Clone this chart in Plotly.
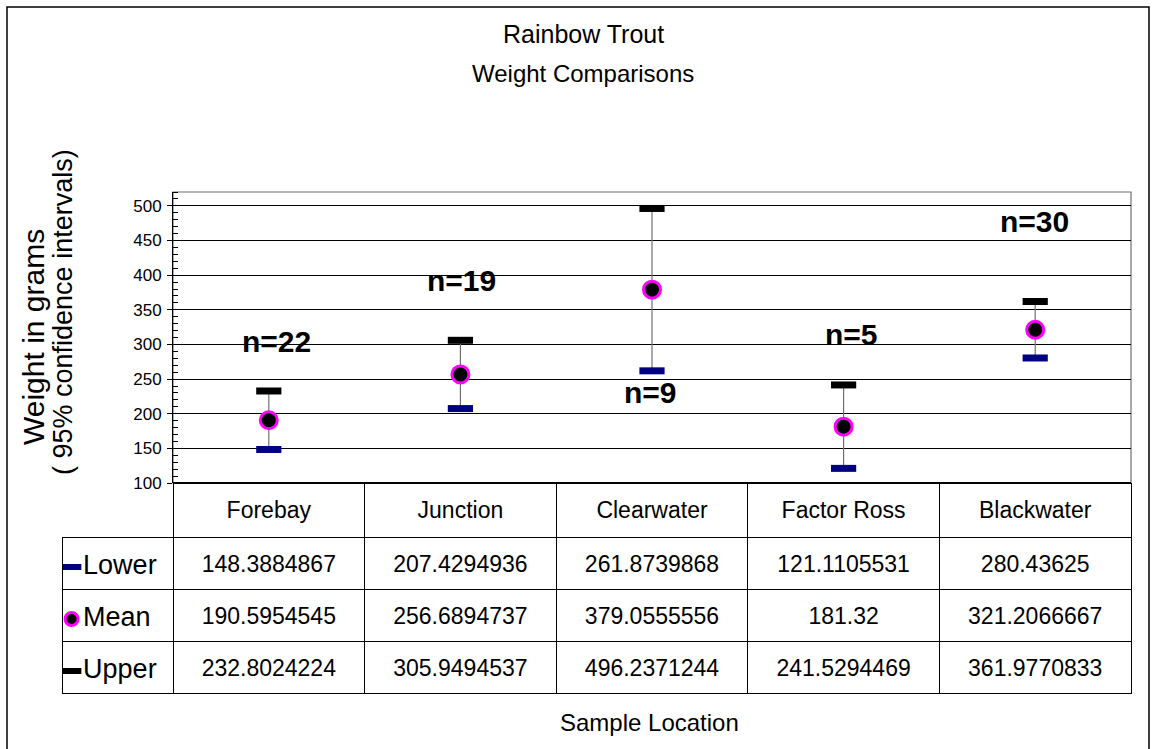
import plotly.graph_objects as go

# ---------------- data ----------------
categories = ["Forebay", "Junction", "Clearwater", "Factor Ross", "Blackwater"]
lower = [148.3884867, 207.4294936, 261.8739868, 121.1105531, 280.43625]
mean = [190.5954545, 256.6894737, 379.0555556, 181.32, 321.2066667]
upper = [232.8024224, 305.9494537, 496.2371244, 241.5294469, 361.9770833]
sample_n = [22, 19, 9, 5, 30]
n_label_y = [304, 392, 230, 314, 477]
n_label_shift = [8, 1, -2, 8, -1]
row_labels = ["Lower", "Mean", "Upper"]
y_ticks = [100, 150, 200, 250, 300, 350, 400, 450, 500]

W, H = 1153, 749
def px(x):
    return x / W
def py(y):
    return 1 - y / H

FONT = "Liberation Sans, Arial, sans-serif"
NAVY = "#000080"
MAGENTA = "#FF00FF"
CLEAR = "rgba(0,0,0,0)"

fig = go.Figure()

# mean with CI whiskers
err_plus = [u - m for u, m in zip(upper, mean)]
err_minus = [m - l for m, l in zip(mean, lower)]
fig.add_trace(go.Scatter(
    x=categories, y=mean, mode="markers", name="Mean",
    error_y=dict(type="data", symmetric=False, array=err_plus, arrayminus=err_minus,
                 color="#707070", thickness=1.2, width=0),
    marker=dict(symbol="circle", size=17, color="black", line=dict(color=MAGENTA, width=3)),
    showlegend=False))
fig.add_trace(go.Scatter(
    x=categories, y=lower, mode="markers", name="Lower",
    marker=dict(symbol="line-ew", size=18, line=dict(color=NAVY, width=7)),
    showlegend=False))
fig.add_trace(go.Scatter(
    x=categories, y=upper, mode="markers", name="Upper",
    marker=dict(symbol="line-ew", size=18, line=dict(color="black", width=7)),
    showlegend=False))

# n labels
for c, n, yv, sh in zip(categories, sample_n, n_label_y, n_label_shift):
    fig.add_annotation(x=c, y=yv, xref="x", yref="y", text=f"<b>n={n}</b>",
                       showarrow=False, xshift=sh, xanchor="center", yanchor="middle",
                       font=dict(family=FONT, size=30, color="black"))

# data table: grid (borders) + text layer (text vertically centred in the rows)
fmt = [[str(v) for v in col] for col in zip(lower, mean, upper)]
colw = [111] + [191.6] * len(categories)
ncol = len(categories) + 1
fig.add_trace(go.Table(
    domain=dict(x=[px(62), px(1131)], y=[py(700), py(483)]),
    columnwidth=colw,
    header=dict(values=[""] * ncol, height=54,
                fill=dict(color=[CLEAR] + ["white"] * len(categories)),
                line=dict(color=[CLEAR] + ["black"] * len(categories), width=1)),
    cells=dict(values=[["", "", ""]] * ncol, height=52,
               fill=dict(color=[CLEAR] + ["white"] * len(categories)),
               line=dict(color="black", width=1)),
))
fig.add_trace(go.Table(
    domain=dict(x=[px(62), px(1131)], y=[py(710), py(493)]),
    columnwidth=colw,
    header=dict(values=[""] + categories, height=54, align="center",
                fill=dict(color=CLEAR), line=dict(color=CLEAR, width=0),
                font=dict(family=FONT, size=23, color="black")),
    cells=dict(values=[["", "", ""]] + fmt, height=52, align="center",
               fill=dict(color=CLEAR), line=dict(color=CLEAR, width=0),
               font=dict(family=FONT, size=23, color="black")),
))

# legend column markers + labels (hidden axes over the first table column)
fig.add_trace(go.Scatter(
    x=[0.086], y=[row_labels[0]], xaxis="x2", yaxis="y2", mode="markers",
    marker=dict(symbol="line-ew", size=14, line=dict(color=NAVY, width=6)),
    showlegend=False, hoverinfo="skip"))
fig.add_trace(go.Scatter(
    x=[0.086], y=[row_labels[1]], xaxis="x2", yaxis="y2", mode="markers",
    marker=dict(symbol="circle", size=13, color="black", line=dict(color=MAGENTA, width=3)),
    showlegend=False, hoverinfo="skip"))
fig.add_trace(go.Scatter(
    x=[0.086], y=[row_labels[2]], xaxis="x2", yaxis="y2", mode="markers",
    marker=dict(symbol="line-ew", size=14, line=dict(color="black", width=6)),
    showlegend=False, hoverinfo="skip"))
fig.add_trace(go.Scatter(
    x=[0.19] * len(row_labels), y=row_labels, xaxis="x2", yaxis="y2", mode="text",
    text=row_labels, textposition="middle right",
    textfont=dict(family=FONT, size=27, color="black"),
    showlegend=False, hoverinfo="skip"))

fig.update_layout(
    width=W, height=H, autosize=False,
    margin=dict(l=0, r=0, t=0, b=0, pad=0, autoexpand=False),
    paper_bgcolor="white", plot_bgcolor="white",
    xaxis=dict(domain=[px(173), px(1131)], type="category", range=[-0.5, 4.5],
               showticklabels=False, ticks="", showgrid=False, zeroline=False,
               showline=False, fixedrange=True, automargin=False),
    yaxis=dict(domain=[py(483), py(192)], range=[100, 520], tickvals=y_ticks,
               showgrid=True, gridcolor="#000000", gridwidth=1, zeroline=False,
               showline=True, linecolor="black", linewidth=1,
               ticks="outside", ticklen=5, tickcolor="black", ticklabelstandoff=2,
               minor=dict(ticks="inside", dtick=10, ticklen=5, tickcolor="black", showgrid=False),
               tickfont=dict(family=FONT, size=17, color="black"), fixedrange=True,
               automargin=False),
    xaxis2=dict(domain=[px(62), px(173)], range=[0, 1], visible=False, fixedrange=True,
                anchor="y2", automargin=False),
    yaxis2=dict(domain=[py(697), py(541)], type="category", categoryarray=row_labels,
                range=[2.5, -0.5], visible=False, fixedrange=True, anchor="x2",
                automargin=False),
    showlegend=False,
)

# plot frame (gray top/right), bottom black
fig.add_shape(type="rect", xref="x domain", yref="y domain", x0=0, x1=1, y0=0, y1=1,
              line=dict(color="#707070", width=1.2), layer="below")
fig.add_shape(type="line", xref="x domain", yref="y domain", x0=0, x1=1, y0=0, y1=0,
              line=dict(color="black", width=2))

# outer border: left, top, right edges (bottom edge lies below the page)
fig.add_shape(type="path", xref="paper", yref="paper",
              path=f"M {px(7)},0 L {px(7)},{py(7)} L {px(1149)},{py(7)} L {px(1149)},0",
              line=dict(color="black", width=1.5))

# titles
def label(x, y, text, size, angle=0):
    fig.add_annotation(x=px(x), y=py(y), xref="paper", yref="paper", text=text,
                       textangle=angle, showarrow=False, xanchor="center", yanchor="middle",
                       font=dict(family=FONT, size=size, color="black"))

label(583, 34, "Rainbow Trout", 25)
label(583, 74, "Weight Comparisons", 24)
label(33, 337, "Weight in grams", 30, -90)
label(63, 312, "( 95% confidence intervals)", 27, -90)
label(649, 722, "Sample Location", 24)

fig.write_html("out.html", config={"responsive": False, "displayModeBar": False},
               post_script="document.body.style.margin='0px';document.body.style.overflow='hidden';"
                           "document.documentElement.style.overflow='hidden';")
